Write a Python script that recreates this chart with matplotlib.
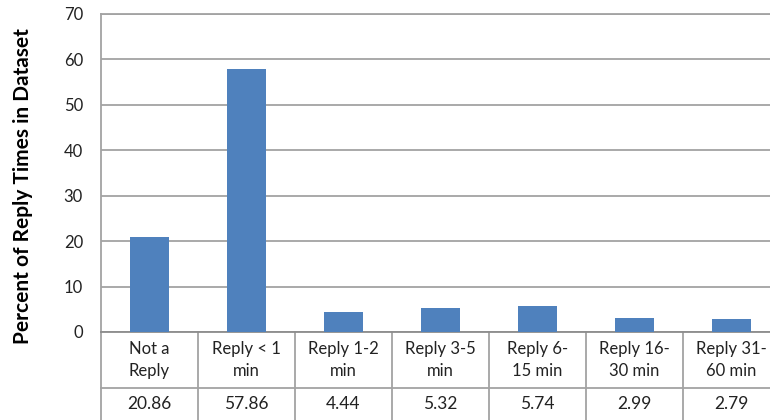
import matplotlib.pyplot as plt
import matplotlib.transforms as mtransforms

categories = ["Not a\nReply", "Reply < 1\nmin", "Reply 1-2\nmin", "Reply 3-5\nmin",
              "Reply 6-\n15 min", "Reply 16-\n30 min", "Reply 31-\n60 min"]
values = [20.86, 57.86, 4.44, 5.32, 5.74, 2.99, 2.79]
value_labels = ["20.86", "57.86", "4.44", "5.32", "5.74", "2.99", "2.79"]
yticks = [0, 10, 20, 30, 40, 50, 60, 70]

plt.rcParams["font.family"] = ["Lato", "DejaVu Sans"]

W, H = 770, 420
fig = plt.figure(figsize=(W / 100, H / 100), dpi=100)
left, right, top, bottom = 101, 780, 14, 332
ax = fig.add_axes([left / W, (H - bottom) / H, (right - left) / W, (bottom - top) / H])

grid_col = "#a3a3a3"
text_col = "#222222"
x = range(len(values))
ax.bar(x, values, width=0.41, color="#4f81bd", zorder=3)
ax.set_xlim(-0.5, len(values) - 0.5)
ax.set_ylim(0, 70)
ax.set_yticks(yticks)
ax.tick_params(axis="y", length=0, pad=13, labelsize=12, labelcolor=text_col)
ax.set_xticks([])
ax.grid(axis="y", color=grid_col, linewidth=1.3, zorder=0)
for s in ax.spines.values():
    s.set_color(grid_col)
    s.set_linewidth(1.3)
ax.spines["bottom"].set_color("#8c8c8c")

ax.set_ylabel("Percent of Reply Times in Dataset", fontsize=15, fontweight="bold")
ax.yaxis.set_label_coords(-0.1, 0.46)

# data table under the axis
ph = bottom - top
trans = mtransforms.blended_transform_factory(ax.transData, ax.transAxes)
row_y = -(388 - bottom) / ph
end_y = -(430 - bottom) / ph
ax.plot([-0.5, len(values) - 0.5], [row_y, row_y], color=grid_col, lw=1.3,
        transform=trans, clip_on=False)
for i in range(len(values) + 1):
    xb = i - 0.5
    ax.plot([xb, xb], [0, end_y], color=grid_col, lw=1.3, transform=trans, clip_on=False)
for i, (c, v) in enumerate(zip(categories, value_labels)):
    ax.text(i, -(360 - bottom) / ph, c, transform=trans, ha="center", va="center",
            fontsize=12, color=text_col, linespacing=1.45)
    ax.text(i, -(404 - bottom) / ph, v, transform=trans, ha="center", va="center",
            fontsize=12.5, color=text_col)

fig.savefig("out.png", dpi=100)
